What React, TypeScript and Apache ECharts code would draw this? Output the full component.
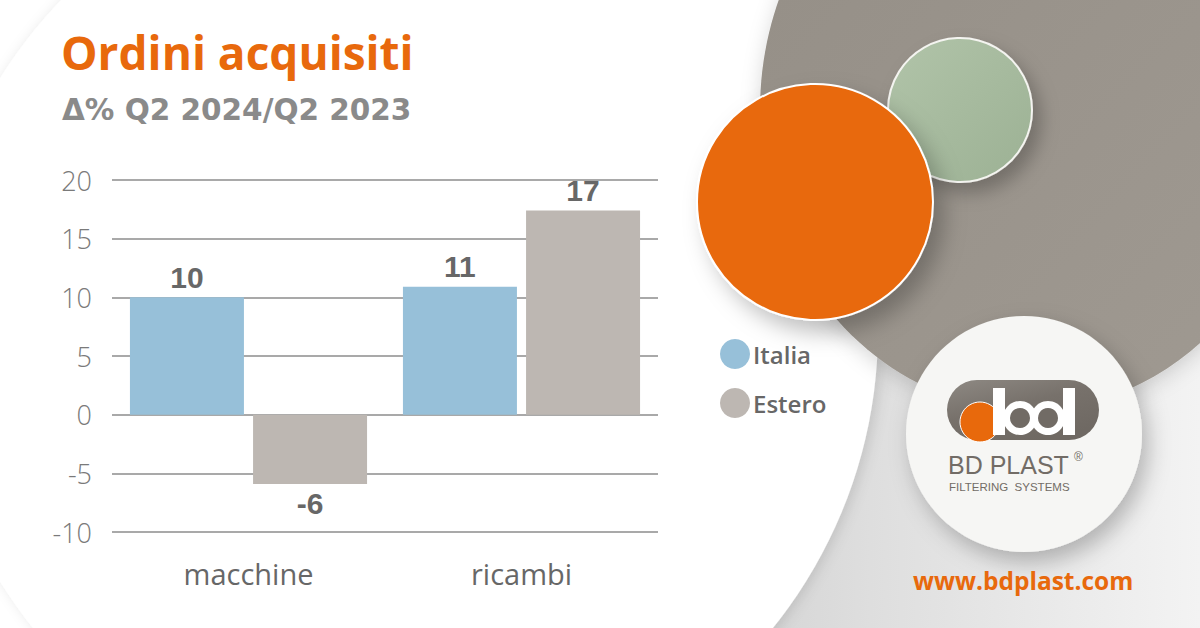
import React, { useEffect, useRef } from "react";
import * as echarts from "echarts";

const categories = ["macchine", "ricambi"];
const seriesNames = ["Italia", "Estero"];
const italiaValues = [10, 10.9];
const esteroValues = [-5.9, 17.4];
const yTicks = { min: -10, max: 20, interval: 5 };

const titleText = "Ordini acquisiti";
const subtitleText = "Δ% Q2 2024/Q2 2023";
const siteText = "www.bdplast.com";

const ORANGE = "#e8690c";
const BLUE = "#97c0d9";
const GREY_BAR = "#bdb7b2";
const TEXT_DARK = "#676767";

export default function App() {
  const ref = useRef<HTMLDivElement>(null);

  useEffect(() => {
    if (!ref.current) return;
    const chart = echarts.init(ref.current, null, { renderer: "svg" });

    const mkData = (vals: number[]) =>
      vals.map((v) => ({
        value: v,
        label: { position: v < 0 ? "bottom" : "top" },
      }));

    const labelCfg = {
      show: true,
      distance: 5,
      fontFamily: "Liberation Sans",
      fontWeight: "bold",
      fontSize: 30,
      color: TEXT_DARK,
      formatter: (p: any) => String(Math.round(p.value)),
    };

    const option: any = {
      animation: false,
      backgroundColor: "#ffffff",
      grid: { left: 112, right: 542, top: 180, bottom: 96 },
      xAxis: {
        type: "category",
        data: categories,
        axisLine: { show: false },
        axisTick: { show: false },
        axisLabel: {
          margin: 27,
          fontSize: 29,
          color: TEXT_DARK,
          fontFamily: "Open Sans",
        },
      },
      yAxis: {
        type: "value",
        min: yTicks.min,
        max: yTicks.max,
        interval: yTicks.interval,
        axisLine: { show: false },
        axisTick: { show: false },
        axisLabel: {
          margin: 20,
          fontSize: 27,
          color: "#7a7a7a",
          fontFamily: "Open Sans",
          fontWeight: 300,
        },
        splitLine: { lineStyle: { color: "#8d8d8d", width: 1.5 } },
      },
      legend: {
        orient: "vertical",
        left: 715,
        top: 334,
        icon: "circle",
        itemWidth: 30,
        itemHeight: 30,
        itemGap: 19,
        data: seriesNames,
        textStyle: {
          fontSize: 24,
          color: TEXT_DARK,
          fontFamily: "Open Sans",
          fontWeight: 600,
          padding: [0, 0, 0, -2],
        },
      },
      series: [
        {
          name: seriesNames[0],
          type: "bar",
          data: mkData(italiaValues),
          barWidth: 114,
          barGap: "8%",
          itemStyle: { color: BLUE },
          label: labelCfg,
        },
        {
          name: seriesNames[1],
          type: "bar",
          data: mkData(esteroValues),
          barWidth: 114,
          itemStyle: { color: GREY_BAR },
          label: labelCfg,
        },
      ],
      graphic: [
        // light-grey right background
        {
          type: "rect",
          z: -12,
          shape: { x: 600, y: 0, width: 600, height: 628 },
          style: {
            fill: new echarts.graphic.LinearGradient(0, 0, 1, 0, [
              { offset: 0, color: "#c9c9c9" },
              { offset: 0.45, color: "#dedede" },
              { offset: 1, color: "#f3f3f3" },
            ]),
          },
        },
        // big white disc on the left
        {
          type: "circle",
          z: -11,
          shape: { cx: 403, cy: 330, r: 475 },
          style: {
            fill: "#ffffff",
            shadowBlur: 14,
            shadowColor: "rgba(0,0,0,0.12)",
            shadowOffsetX: 4,
          },
        },
        {
          type: "rect",
          z: -10,
          shape: { x: 700, y: 0, width: 100, height: 45 },
          style: { fill: "#ffffff" },
        },
        // grey disc
        {
          type: "ellipse",
          z: -9,
          shape: { cx: 1030, cy: 110, rx: 270, ry: 300 },
          style: {
            fill: new echarts.graphic.LinearGradient(0, 0, 1, 1, [
              { offset: 0, color: "#948e86" },
              { offset: 1, color: "#a09a92" },
            ]),
            shadowBlur: 20,
            shadowColor: "rgba(0,0,0,0.15)",
            shadowOffsetY: 6,
          },
        },
        // green disc
        {
          type: "circle",
          z: -8,
          shape: { cx: 960, cy: 110, r: 72 },
          style: {
            fill: new echarts.graphic.LinearGradient(0, 0, 1, 1, [
              { offset: 0, color: "#b1c4a9" },
              { offset: 1, color: "#9cb194" },
            ]),
            stroke: "#f4f4f0",
            lineWidth: 2,
            shadowBlur: 18,
            shadowColor: "rgba(0,0,0,0.25)",
            shadowOffsetX: 8,
            shadowOffsetY: 10,
          },
        },
        // orange disc
        {
          type: "circle",
          z: -7,
          shape: { cx: 815, cy: 202, r: 118 },
          style: {
            fill: ORANGE,
            stroke: "#ffffff",
            lineWidth: 2,
            shadowBlur: 22,
            shadowColor: "rgba(0,0,0,0.25)",
            shadowOffsetX: 10,
            shadowOffsetY: 12,
          },
        },
        // white logo disc
        {
          type: "circle",
          z: -6,
          shape: { cx: 1024, cy: 434, r: 118 },
          style: {
            fill: "#f6f6f4",
            shadowBlur: 22,
            shadowColor: "rgba(0,0,0,0.25)",
            shadowOffsetX: 6,
            shadowOffsetY: 10,
          },
        },
        // logo pill
        {
          type: "rect",
          z: -5,
          shape: { x: 947, y: 380, width: 152, height: 60, r: 30 },
          style: {
            fill: new echarts.graphic.LinearGradient(0, 0, 0.6, 1, [
              { offset: 0, color: "#8e8983" },
              { offset: 0.5, color: "#77716b" },
              { offset: 1, color: "#6f6963" },
            ]),
          },
        },
        {
          type: "circle",
          z: -4,
          shape: { cx: 980, cy: 422, r: 20 },
          style: { fill: ORANGE, stroke: "#ffffff", lineWidth: 1 },
        },
        // b
        { type: "rect", z: -3, shape: { x: 993, y: 388, width: 12, height: 47 }, style: { fill: "#ffffff" } },
        { type: "circle", z: -3, shape: { cx: 1020, cy: 418, r: 17 }, style: { fill: "#ffffff" } },
        { type: "circle", z: -2, shape: { cx: 1020, cy: 418, r: 10 }, style: { fill: "#716b65" } },
        // d
        { type: "rect", z: -3, shape: { x: 1063, y: 388, width: 12, height: 47 }, style: { fill: "#ffffff" } },
        { type: "circle", z: -3, shape: { cx: 1048, cy: 418, r: 17 }, style: { fill: "#ffffff" } },
        { type: "circle", z: -2, shape: { cx: 1048, cy: 418, r: 10 }, style: { fill: "#716b65" } },
        {
          type: "text",
          z: -2,
          left: 948,
          top: 452,
          style: {
            text: "BD PLAST",
            fontFamily: "Liberation Sans",
            fontSize: 25,
            fill: "#726c66",
          },
        },
        {
          type: "text",
          z: -2,
          left: 1074,
          top: 451,
          style: { text: "®", fontFamily: "Liberation Sans", fontSize: 12, fill: "#726c66" },
        },
        {
          type: "text",
          z: -2,
          left: 949,
          top: 481,
          style: {
            text: "FILTERING  SYSTEMS",
            fontFamily: "Liberation Sans",
            fontSize: 11.5,
            fill: "#726c66",
          },
        },
        // title texts
        {
          type: "text",
          left: 61,
          top: 29,
          style: {
            text: titleText,
            fontFamily: "Open Sans",
            fontWeight: "bold",
            fontSize: 46,
            fill: ORANGE,
          },
        },
        {
          type: "text",
          left: 62,
          top: 95,
          style: {
            text: subtitleText,
            fontFamily: "DejaVu Sans",
            fontWeight: "bold",
            fontSize: 29.5,
            fill: "#8a8a8a",
          },
        },
        {
          type: "text",
          left: 913,
          top: 568,
          style: {
            text: siteText,
            fontFamily: "Open Sans",
            fontWeight: "bold",
            fontSize: 24.5,
            fill: ORANGE,
          },
        },
      ],
    };

    chart.setOption(option);
    return () => chart.dispose();
  }, []);

  return (
    <div
      ref={ref}
      style={{ position: "fixed", left: 0, top: 0, width: 1200, height: 628 }}
    />
  );
}
